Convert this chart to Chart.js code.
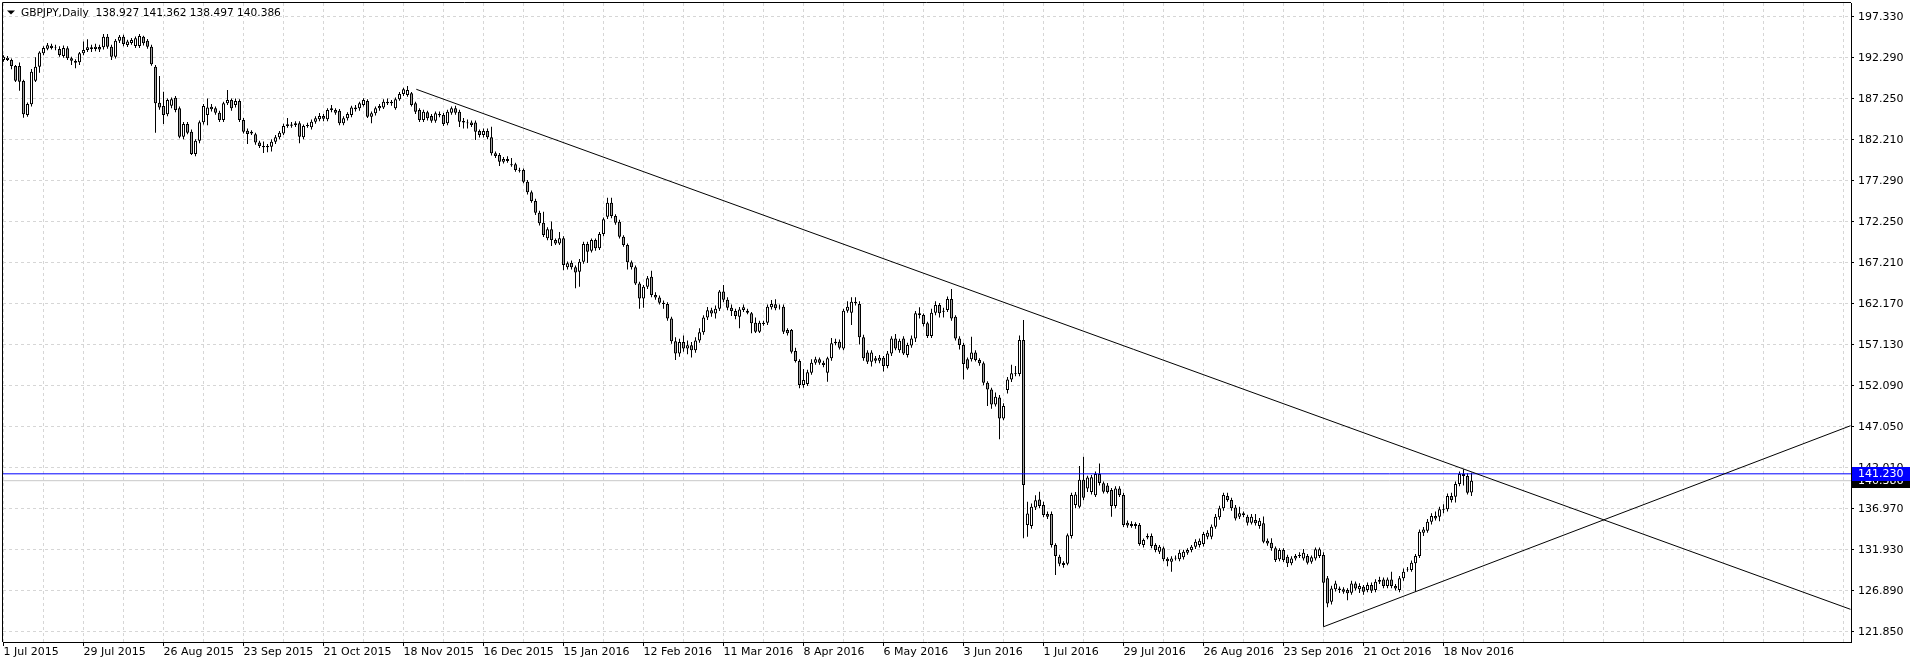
<!DOCTYPE html>
<html>
<head>
<meta charset="utf-8">
<script src="https://cdn.jsdelivr.net/npm/chart.js@4.4.1/dist/chart.umd.min.js"></script>
<style>
html, body { margin: 0; padding: 0; background: #fff; overflow: hidden; }
canvas { display: block; }
</style>
</head>
<body>
<canvas id="gbpjpyChart" width="1910" height="666"></canvas>
<script>
// GBPJPY daily candles, 1 Jul 2015 .. end Nov 2016 (one entry per bar)
var openP = [
192.0,192.0,192.0,191.28,191.28,189.44,185.26,186.57,189.48,191.2,192.83,193.4,193.75,193.6,193.37,192.5,193.45,192.22,191.9,191.73,
192.83,193.24,193.57,193.35,193.6,193.57,194.88,193.65,192.42,194.39,194.88,193.86,194.1,193.73,193.73,194.88,194.39,193.65,191.2,186.78,
186.37,185.35,186.4,187.39,186.08,182.6,184.16,183.22,180.48,182.11,184.36,185.26,186.29,186.08,185.55,184.65,186.7,187.1,186.5,186.98,
184.65,183.34,183.0,182.89,181.9,181.46,181.3,181.38,181.99,182.52,183.0,183.92,184.1,184.04,184.24,182.52,183.9,183.75,184.45,184.73,
185.14,184.73,185.88,185.88,185.8,184.24,184.86,185.26,186.2,186.08,186.49,186.98,185.06,185.47,186.08,186.2,186.9,186.7,186.08,187.19,
187.84,187.72,187.92,186.7,185.88,184.65,185.59,185.14,184.57,185.39,185.26,184.24,185.55,186.08,185.67,184.53,184.33,184.33,184.33,183.3,
182.81,183.3,182.52,180.56,180.35,179.54,179.86,179.21,179.21,178.51,178.51,177.08,175.77,174.71,173.28,172.05,170.13,171.23,169.92,169.51,
170.13,166.57,167.14,166.57,166.04,167.26,169.43,168.61,169.92,168.9,170.66,172.79,174.5,172.87,172.17,170.33,169.31,167.18,166.57,164.6,
162.76,164.19,165.42,163.17,162.88,162.23,162.06,160.3,157.5,156.0,157.4,156.6,157.0,156.4,157.6,158.6,160.4,161.3,160.9,161.5,
163.6,162.6,161.6,161.2,160.51,161.33,161.25,160.92,159.78,158.67,159.78,159.78,161.66,162.03,161.74,161.74,158.88,158.88,156.3,155.07,
152.13,152.25,153.64,154.87,155.28,154.87,153.64,155.4,157.24,157.44,156.62,161.25,161.0,162.36,162.07,157.98,156.13,154.99,155.4,155.1,
155.48,154.46,156.0,157.85,156.4,157.85,155.8,156.99,157.85,160.92,160.72,159.7,158.14,161.0,161.95,161.25,161.33,162.68,160.51,157.85,
157.04,155.28,155.28,156.13,155.2,154.79,152.41,151.59,149.75,150.61,148.03,151.51,152.82,153.56,153.48,157.65,134.94,134.82,137.1,138.09,
137.39,136.29,136.29,132.49,131.06,130.3,130.2,133.59,137.4,137.2,140.5,139.44,139.0,138.6,141.2,140.06,139.8,139.24,137.28,139.44,
138.63,135.23,135.07,134.82,134.94,132.49,133.4,133.59,132.49,131.67,132.08,130.81,130.45,130.85,130.73,130.98,131.55,131.88,132.29,132.49,
132.61,133.51,133.51,134.74,135.89,136.99,138.5,138.01,137.11,135.97,136.38,135.97,135.23,135.56,134.82,135.15,133.02,132.78,132.08,130.73,
131.88,131.06,130.24,130.85,131.14,130.85,131.14,130.45,130.85,131.14,131.26,128.4,125.53,127.05,127.17,127.05,126.97,126.64,127.78,127.05,
127.37,126.97,127.58,126.97,127.99,128.27,127.46,128.27,127.46,126.97,128.4,129.42,129.42,130.24,131.14,134.0,134.25,135.35,136.05,135.97,
136.87,136.87,138.5,138.42,139.98,141.21,140.96,138.927
];
var highP = [
192.6,192.5,192.2,191.4,191.7,189.6,186.8,190.9,192.34,193.1,193.7,194.1,194.0,193.9,193.7,193.8,193.7,192.4,192.1,193.0,
194.27,194.55,193.9,194.0,193.9,195.21,195.2,193.9,194.6,195.08,195.1,194.5,194.7,194.9,195.21,195.0,194.6,193.9,191.4,190.05,
188.13,187.3,187.4,187.6,186.3,184.4,184.4,183.5,182.3,184.6,186.6,187.3,186.6,186.3,185.8,186.9,188.33,187.3,187.3,187.2,
184.9,183.6,183.4,183.1,182.1,182.0,181.7,182.3,182.8,183.3,184.2,184.9,184.4,184.5,184.5,184.1,184.3,184.7,185.1,185.5,
185.4,186.1,186.5,186.1,186.0,185.1,185.6,186.4,186.5,186.9,187.31,187.2,185.7,186.3,186.6,187.2,187.3,187.1,187.4,188.1,
188.6,188.83,188.1,186.9,186.1,185.9,185.8,185.4,185.7,185.7,185.5,185.9,186.3,186.4,185.9,184.9,184.7,184.6,184.6,183.5,
183.6,183.6,183.83,180.8,180.6,180.1,180.2,180.0,179.4,178.8,178.7,177.3,176.0,175.0,173.5,173.4,171.5,172.2,170.1,170.9,
170.4,167.3,167.4,166.8,167.6,169.7,169.7,170.1,170.1,170.9,172.7,175.12,175.1,173.1,172.4,170.5,169.5,167.4,166.8,164.8,
164.4,165.5,166.16,163.5,163.1,162.5,162.3,160.5,158.0,157.8,158.2,157.6,157.4,158.0,159.1,160.7,161.7,161.6,161.9,163.8,
164.4,162.9,162.0,161.5,161.7,162.0,161.5,161.1,160.4,160.0,160.0,162.0,162.56,162.64,162.0,162.0,159.1,159.0,156.7,155.3,
154.1,154.0,155.3,155.6,155.5,155.1,155.6,157.9,157.8,157.7,161.5,162.4,162.9,162.89,162.4,158.3,156.4,156.4,155.7,155.8,
155.7,156.3,158.1,158.4,157.8,158.1,157.3,158.2,161.2,161.66,160.9,159.9,161.5,162.4,162.2,161.6,163.0,163.91,160.7,158.1,
157.3,155.5,158.06,156.4,155.4,155.0,152.6,151.8,151.2,150.9,149.9,153.1,154.6,154.46,158.2,160.1,137.8,137.6,138.6,139.03,
137.8,136.6,136.6,132.7,131.3,130.5,133.9,138.9,139.0,142.2,143.33,141.0,141.1,141.5,142.5,140.3,140.1,139.5,139.7,139.7,
138.9,135.5,135.4,135.3,135.2,133.3,133.9,133.9,132.7,132.5,132.3,131.0,131.1,131.2,131.9,131.9,132.1,132.5,133.2,133.3,
134.1,134.3,135.0,136.3,137.3,138.91,138.9,138.3,137.4,137.19,136.6,136.2,136.3,136.3,135.8,136.0,133.3,133.31,132.3,132.1,
132.1,131.3,131.1,131.4,131.6,132.0,131.4,131.2,132.2,132.2,131.6,128.7,127.5,128.11,127.4,127.3,127.2,128.1,128.0,127.8,
127.6,127.9,127.9,128.3,128.6,128.5,128.5,129.2,127.7,128.7,129.6,129.8,130.6,131.4,134.4,134.7,135.7,136.4,136.6,137.2,
137.5,138.8,138.9,140.3,141.5,141.78,141.3,141.362
];
var lowP = [
191.8,191.9,190.87,189.3,188.25,184.94,185.05,186.3,189.3,190.46,192.6,193.2,193.3,193.2,192.4,192.3,192.0,191.4,190.99,191.4,
192.6,193.0,193.0,193.1,193.0,193.3,193.4,192.01,192.2,194.1,193.7,193.6,193.9,193.5,193.5,193.8,193.4,191.3,183.1,185.9,
184.16,185.1,186.1,185.6,182.4,182.3,182.9,180.35,180.2,181.8,184.1,184.0,185.7,185.3,184.4,184.4,186.5,185.8,186.2,184.4,
183.0,181.7,182.8,181.6,181.2,180.6,180.7,180.8,181.7,182.3,182.8,183.7,183.7,183.8,181.8,182.3,183.7,183.5,184.2,184.5,
184.5,184.5,185.6,185.3,184.0,184.0,184.6,185.0,185.7,185.8,186.3,184.9,184.24,185.2,185.8,186.0,186.5,186.4,185.9,187.0,
187.6,187.5,186.3,185.4,184.4,184.4,184.6,184.3,184.3,185.0,183.9,184.0,185.3,185.3,183.8,183.6,183.6,183.8,182.2,182.5,
182.5,182.3,180.3,180.0,179.0,179.3,179.4,178.9,178.3,178.2,176.9,175.5,174.5,173.0,171.7,170.3,169.9,169.2,169.3,169.3,
166.2,166.3,166.3,163.99,164.2,167.0,167.1,168.4,168.6,168.7,170.4,172.5,172.6,171.8,170.1,169.1,166.3,166.3,164.4,161.5,
161.6,163.9,162.9,162.6,162.0,161.5,160.0,157.2,155.2,155.6,156.2,155.9,155.5,156.1,157.3,158.3,160.1,160.5,160.3,161.2,
162.3,161.3,160.6,160.2,159.08,161.1,160.8,158.47,158.5,158.5,159.4,159.5,161.4,161.3,161.4,158.4,158.2,156.0,154.9,151.72,
151.8,152.0,153.4,154.6,154.6,154.3,152.54,155.1,157.0,156.5,156.4,161.0,159.5,161.9,157.1,155.1,154.7,154.4,154.8,154.8,
153.8,154.2,155.7,156.4,156.1,155.8,155.5,156.7,157.4,160.3,159.3,157.9,157.9,160.7,160.4,160.4,161.1,160.0,157.6,156.5,
152.8,154.0,155.0,155.0,154.5,152.1,149.55,149.2,149.5,145.46,147.8,151.1,152.5,153.2,153.2,133.31,133.5,134.5,136.8,137.0,
135.9,135.7,132.2,128.8,129.9,129.7,130.0,133.3,137.0,137.0,138.0,139.0,138.7,138.4,139.8,138.8,138.8,135.97,137.0,138.4,
134.7,134.6,134.6,134.5,132.4,132.2,133.2,132.1,131.6,131.4,130.5,129.9,129.2,130.6,130.5,130.7,131.3,131.6,132.0,132.2,
132.3,133.2,133.2,134.5,135.6,136.7,137.8,136.7,135.5,135.7,135.9,134.9,135.0,134.9,134.5,132.7,132.4,131.8,130.4,130.5,
130.4,129.8,130.0,130.6,130.9,130.6,130.1,130.2,130.6,130.9,122.46,124.84,125.2,126.8,126.6,126.5,125.7,126.4,126.9,126.6,
126.4,126.7,126.6,126.7,127.7,127.2,127.2,127.2,126.9,126.7,128.1,129.2,129.2,126.76,130.9,133.6,134.0,135.0,135.5,135.4,
136.4,136.6,137.7,137.7,139.7,139.8,138.7,138.497
];
var closeP = [
192.4,192.3,191.28,189.48,189.36,185.35,186.61,190.58,191.2,192.92,193.49,193.82,193.5,193.55,192.63,193.49,192.22,191.93,191.69,192.83,
193.24,193.57,193.35,193.65,193.3,194.88,193.65,192.42,194.39,194.88,193.98,194.27,194.47,194.68,194.96,194.06,193.65,191.48,186.7,186.2,
185.26,187.1,187.19,185.88,182.6,184.16,183.1,180.48,182.11,184.36,186.37,186.2,185.96,185.55,184.65,186.7,187.1,186.08,186.98,184.65,
183.22,182.93,183.22,181.9,181.46,181.3,181.46,181.99,182.52,183.1,183.9,184.12,183.95,184.24,182.6,183.9,184.04,184.45,184.86,185.14,
184.8,185.88,186.08,185.55,184.24,184.86,185.39,186.2,185.96,186.7,187.1,185.06,185.47,186.08,186.37,186.9,186.7,186.9,187.19,187.84,
188.42,188.33,186.49,185.67,184.65,185.67,184.86,184.57,185.47,185.22,184.16,185.67,186.08,185.55,184.45,184.33,184.24,184.04,183.22,182.81,
183.3,182.52,180.56,180.23,179.54,179.86,179.62,179.09,178.51,178.43,177.08,175.77,174.71,173.28,171.97,170.54,171.23,169.92,169.51,170.13,
166.85,167.06,166.57,165.95,167.26,169.43,168.49,169.92,168.9,170.66,172.46,174.5,172.87,172.05,170.33,169.31,167.18,166.57,164.6,162.76,
164.19,165.22,163.17,162.88,162.23,162.06,160.3,157.5,156.0,157.4,156.6,157.0,156.4,157.6,158.6,160.4,161.3,160.9,161.5,163.6,
162.6,161.6,161.2,160.6,161.41,161.66,161.0,159.7,158.67,159.78,159.62,161.74,162.07,161.54,161.66,158.67,158.47,156.22,155.07,152.13,
152.74,153.68,154.87,155.28,154.87,154.58,155.4,157.24,157.44,156.7,161.25,161.74,162.36,162.15,157.98,155.4,154.99,156.13,155.1,155.48,
154.46,156.0,157.85,156.62,157.57,156.0,157.03,157.85,160.92,160.72,159.62,158.14,161.0,161.95,160.92,161.13,162.68,160.3,157.85,157.04,
154.7,154.17,156.13,155.2,154.79,152.41,151.59,149.75,150.69,148.03,149.55,152.82,153.56,153.48,157.65,139.85,136.37,137.19,138.0,137.27,
136.17,135.96,132.49,131.13,130.2,130.05,133.7,138.62,138.7,140.5,138.3,140.79,140.8,141.2,140.1,139.03,139.0,137.28,139.44,138.63,
134.94,134.9,134.82,135.07,132.61,133.1,133.59,132.37,131.88,132.29,130.73,130.49,130.85,130.93,131.55,131.67,131.88,132.29,132.9,133.02,
133.84,134.0,134.74,135.97,136.99,138.63,138.01,136.99,135.76,136.38,136.17,135.23,135.97,135.15,135.48,132.9,132.69,132.08,130.65,131.88,
130.65,130.24,130.85,131.14,131.26,131.55,130.32,130.98,131.96,131.96,127.86,125.33,127.17,127.78,126.97,126.76,126.56,127.78,127.17,127.46,
126.76,127.58,126.89,127.99,128.19,127.46,128.27,127.46,127.17,128.4,129.22,129.5,130.32,131.14,134.12,134.41,135.35,136.05,135.76,136.87,
136.79,138.5,138.01,139.98,141.21,140.96,138.91,140.386
];

// axis texts
var dateLabels = ['1 Jul 2015', '29 Jul 2015', '26 Aug 2015', '23 Sep 2015', '21 Oct 2015', '18 Nov 2015',
    '16 Dec 2015', '15 Jan 2016', '12 Feb 2016', '11 Mar 2016', '8 Apr 2016', '6 May 2016', '3 Jun 2016',
    '1 Jul 2016', '29 Jul 2016', '26 Aug 2016', '23 Sep 2016', '21 Oct 2016', '18 Nov 2016'];
var priceTicks = [121.850, 126.882, 131.914, 136.946, 141.978, 147.010, 152.042, 157.074,
    162.106, 167.138, 172.170, 177.202, 182.234, 187.266, 192.298, 197.330];
var priceLabels = ['121.850', '126.890', '131.930', '136.970', '142.010', '147.050', '152.090', '157.130',
    '162.170', '167.210', '172.250', '177.290', '182.210', '187.250', '192.290', '197.330'];

// trend lines as [bar, price]
var downTrend = [[103.2, 188.42], [461.75, 124.60]];
var upTrend = [[330, 122.46], [461.75, 147.13]];
var lineLevel = 141.230;
var bidLevel = 140.386;
var titleText = 'GBPJPY,Daily  138.927 141.362 138.497 140.386';

var bodies = [], wicks = [], bodyColors = [];
for (var i = 0; i < closeP.length; i++) {
    bodies.push({x: i, y: [openP[i], closeP[i]]});
    wicks.push({x: i, y: [lowP[i], highP[i]]});
    bodyColors.push(closeP[i] >= openP[i] ? '#ffffff' : '#a0a0a0');
}
function pts(arr) {
    return arr.map(function (p) { return {x: p[0], y: p[1]}; });
}

var overlay = {
    id: 'overlay',
    afterDraw: function (chart) {
        var ctx = chart.ctx, a = chart.chartArea, ys = chart.scales.y;
        ctx.save();
        // frame top + left
        ctx.strokeStyle = '#000';
        ctx.lineWidth = 1;
        ctx.beginPath();
        ctx.moveTo(a.left - 0.5, a.bottom);
        ctx.lineTo(a.left - 0.5, a.top - 0.5);
        ctx.lineTo(a.right, a.top - 0.5);
        ctx.stroke();

        // title
        ctx.fillStyle = '#000';
        ctx.beginPath();
        ctx.moveTo(7, 10.5); ctx.lineTo(15, 10.5); ctx.lineTo(11, 14.5);
        ctx.closePath();
        ctx.fill();
        ctx.font = '10.6px "DejaVu Sans"';
        ctx.textBaseline = 'middle';
        ctx.textAlign = 'left';
        ctx.fillText(titleText, 21, 13);

        // price boxes on the axis
        ctx.font = '11px "DejaVu Sans"';
        var yb = ys.getPixelForValue(bidLevel);
        ctx.fillStyle = '#000';
        ctx.fillRect(a.right + 1, Math.round(yb) - 7, 58, 14);
        ctx.fillStyle = '#fff';
        ctx.fillText(bidLevel.toFixed(3), a.right + 7, Math.round(yb));
        var yl = ys.getPixelForValue(lineLevel);
        ctx.fillStyle = '#0000ff';
        ctx.fillRect(a.right + 1, Math.round(yl) - 7, 58, 14);
        ctx.fillStyle = '#fff';
        ctx.fillText(lineLevel.toFixed(3), a.right + 7, Math.round(yl));
        ctx.restore();
    }
};

var ctx = document.getElementById('gbpjpyChart').getContext('2d');
Chart.defaults.font.family = '"DejaVu Sans"';
Chart.defaults.font.size = 11;
Chart.defaults.color = '#000';

var myChart = new Chart(ctx, {
    type: 'bar',
    data: {
        datasets: [
            {type: 'line', data: pts(downTrend), borderColor: '#000', borderWidth: 1, pointRadius: 0, order: -2},
            {type: 'line', data: pts(upTrend), borderColor: '#000', borderWidth: 1, pointRadius: 0, order: -2},
            {type: 'line', data: [{x: -1, y: lineLevel}, {x: 463, y: lineLevel}], borderColor: '#0000ff', borderWidth: 1, pointRadius: 0, order: -1},
            {type: 'line', data: [{x: -1, y: bidLevel}, {x: 463, y: bidLevel}], borderColor: '#c8c8c8', borderWidth: 1, pointRadius: 0, order: 3},
            {data: bodies, backgroundColor: bodyColors, borderColor: '#000', borderWidth: 1, borderSkipped: false,
                barThickness: 3, grouped: false, inflateAmount: 0, order: 0},
            {data: wicks, backgroundColor: '#000', borderWidth: 0, barThickness: 1, grouped: false, inflateAmount: 0, order: 1}
        ]
    },
    options: {
        responsive: false,
        animation: false,
        devicePixelRatio: 1,
        events: [],
        layout: {padding: {left: 3, top: 3, right: 0, bottom: 0}},
        plugins: {legend: {display: false}, tooltip: {enabled: false}},
        scales: {
            x: {
                type: 'linear',
                min: -0.125,
                max: 461.875,
                offset: false,
                grid: {
                    offset: false,
                    color: '#d6d6d6',
                    tickLength: 4,
                    tickColor: function (c) {
                        return (c.tick && c.tick.value % 20 === 0 && c.tick.value / 20 < dateLabels.length) ? '#000' : 'rgba(0,0,0,0)';
                    }
                },
                border: {display: true, color: '#000', dash: [3, 3]},
                afterBuildTicks: function (scale) {
                    var t = [];
                    for (var v = 0; v <= 460; v += 10) t.push({value: v});
                    scale.ticks = t;
                },
                afterFit: function (scale) {
                    scale.height = 24;
                    scale.paddingLeft = 0;
                    scale.paddingRight = 0;
                },
                ticks: {
                    autoSkip: false,
                    maxRotation: 0,
                    align: 'start',
                    padding: 0,
                    callback: function (value) {
                        if (value % 20 !== 0) return '';
                        return dateLabels[value / 20] || '';
                    }
                }
            },
            y: {
                type: 'linear',
                position: 'right',
                min: 120.59,
                max: 199.01,
                grid: {color: '#d6d6d6', tickLength: 3, tickColor: '#000'},
                border: {display: true, color: '#000', dash: [3, 3]},
                afterBuildTicks: function (scale) {
                    scale.ticks = priceTicks.map(function (v) { return {value: v}; });
                },
                afterFit: function (scale) {
                    scale.width = 59;
                    scale.paddingTop = 0;
                    scale.paddingBottom = 0;
                },
                ticks: {
                    autoSkip: false,
                    padding: 4,
                    callback: function (value, index) { return priceLabels[index]; }
                }
            }
        }
    },
    plugins: [overlay]
});
</script>
</body>
</html>
